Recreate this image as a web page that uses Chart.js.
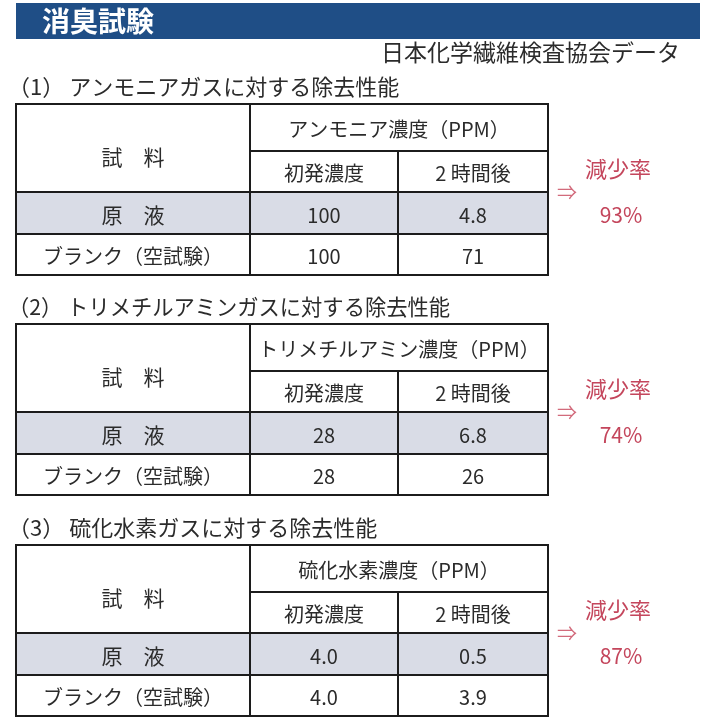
<!DOCTYPE html>
<html lang="ja">
<head>
<meta charset="utf-8">
<title>消臭試験</title>
<script src="https://cdn.jsdelivr.net/npm/chart.js@4.4.1/dist/chart.umd.min.js"></script>
<style>
  html, body { margin: 0; padding: 0; background: #fff; }
  #wrap { width: 720px; height: 720px; position: relative; }
</style>
</head>
<body>
<div id="wrap"><canvas id="deodorChart"></canvas></div>
<script>
// ---- data ----
const pageTitle = '消臭試験';
const sourceNote = '日本化学繊維検査協会データ';
const sectionTitles = [
    '（1） アンモニアガスに対する除去性能',
    '（2） トリメチルアミンガスに対する除去性能',
    '（3） 硫化水素ガスに対する除去性能'
];
const gasHeaders = ['アンモニア濃度（PPM）', 'トリメチルアミン濃度（PPM）', '硫化水素濃度（PPM）'];
const sampleLabel = '試　料';
const sampleNames = ['原　液', 'ブランク（空試験）'];
const timeLabels = ['初発濃度', '2 時間後'];
const initialPpm = [[100, 100], [28, 28], [4.0, 4.0]];
const afterPpm = [[4.8, 71], [6.8, 26], [0.5, 3.9]];
const reductionLabel = '減少率';
const reductionRates = [93, 74, 87];

// ---- layout (page units, 0..720) ----
const FONT = '"Noto Sans CJK JP", "Noto Sans", sans-serif';
const TEXT = '#2b2b2b';
const RED = '#c4465c';
const tableTops = [104, 324, 545];
const rowOffsets = [0, 47, 88, 130, 171];
const colX = [16, 250, 398, 548];

function fmt(v) {
    // small whole numbers were printed with one decimal (4.0)
    return (Number.isInteger(v) && v < 10) ? v.toFixed(1) : String(v);
}

const tablePlugin = {
    id: 'deodorTables',
    beforeDraw: function(chart) {
        const ctx = chart.ctx;
        const sx = chart.scales.x, sy = chart.scales.y;
        const px = v => sx.getPixelForValue(v);
        const py = v => sy.getPixelForValue(v);

        function text(str, x, y, size, color, align, weight, maxW) {
            ctx.font = (weight || 'normal') + ' ' + size + 'px ' + FONT;
            ctx.fillStyle = color;
            ctx.textAlign = align || 'center';
            ctx.textBaseline = 'middle';
            if (maxW) ctx.fillText(str, px(x), py(y), maxW);
            else ctx.fillText(str, px(x), py(y));
        }

        ctx.save();
        ctx.fillStyle = '#fff';
        ctx.fillRect(0, 0, chart.width, chart.height);

        // header band
        ctx.fillStyle = '#1f4e86';
        ctx.fillRect(px(16), py(3), px(700) - px(16), py(39) - py(3));
        text(pageTitle, 42, 21, 28, '#fff', 'left', 'bold');
        text(sourceNote, 680, 52, 23, TEXT, 'right');

        tableTops.forEach(function(top, i) {
            const r = rowOffsets.map(o => top + o);
            const mid = (a, b) => (a + b) / 2 + 2;

            text(sectionTitles[i], 8, top - 17, 22, TEXT, 'left', null, 442);

            // shaded sample row
            ctx.fillStyle = '#d9dce6';
            ctx.fillRect(px(colX[0]), py(r[2]), px(colX[3]) - px(colX[0]), py(r[3]) - py(r[2]));

            // grid
            ctx.strokeStyle = '#1c1c1c';
            ctx.lineWidth = 2;
            ctx.strokeRect(px(colX[0]), py(r[0]), px(colX[3]) - px(colX[0]), py(r[4]) - py(r[0]));
            ctx.beginPath();
            ctx.moveTo(px(colX[1]), py(r[1])); ctx.lineTo(px(colX[3]), py(r[1]));
            ctx.moveTo(px(colX[0]), py(r[2])); ctx.lineTo(px(colX[3]), py(r[2]));
            ctx.moveTo(px(colX[0]), py(r[3])); ctx.lineTo(px(colX[3]), py(r[3]));
            ctx.moveTo(px(colX[1]), py(r[0])); ctx.lineTo(px(colX[1]), py(r[4]));
            ctx.moveTo(px(colX[2]), py(r[1])); ctx.lineTo(px(colX[2]), py(r[4]));
            ctx.stroke();

            const c0 = mid(colX[0], colX[1]) - 2, c1 = mid(colX[1], colX[2]) - 2, c2 = mid(colX[2], colX[3]) - 2;
            text(sampleLabel, c0, top + 53, 21, TEXT);
            text(gasHeaders[i], mid(colX[1], colX[3]) - 2, mid(r[0], r[1]), 20, TEXT);
            text(timeLabels[0], c1, mid(r[1], r[2]), 20, TEXT);
            text(timeLabels[1], c2, mid(r[1], r[2]), 20, TEXT);

            sampleNames.forEach(function(name, j) {
                const y = mid(r[2 + j], r[3 + j]);
                text(name, c0, y, j === 0 ? 21 : 20, TEXT);
                text(fmt(initialPpm[i][j]), c1, y, 20, TEXT);
                text(fmt(afterPpm[i][j]), c2, y, 20, TEXT);
            });

            // reduction rate
            text('⇒', 567, top + 88, 20, '#d26b7c');
            text(reductionLabel, 618, top + 65, 22, RED);
            text(reductionRates[i] + '%', 621, top + 111, 21, RED);
        });
        ctx.restore();
    }
};

new Chart(document.getElementById('deodorChart'), {
    type: 'scatter',
    data: { datasets: [{ data: [], pointRadius: 0 }] },
    options: {
        responsive: true,
        maintainAspectRatio: false,
        animation: false,
        layout: { padding: 0 },
        plugins: { legend: { display: false }, tooltip: { enabled: false } },
        scales: {
            x: { type: 'linear', min: 0, max: 720, display: false },
            y: { type: 'linear', min: 0, max: 720, reverse: true, display: false }
        }
    },
    plugins: [tablePlugin]
});
</script>
</body>
</html>
